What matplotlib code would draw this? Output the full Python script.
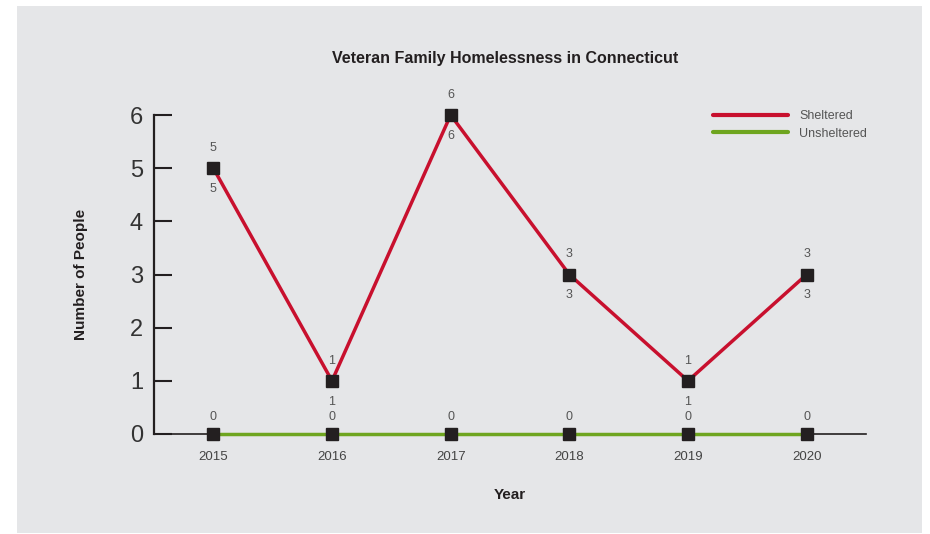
import matplotlib
matplotlib.use('Agg')
import matplotlib.pyplot as plt
import matplotlib.patches as patches

plt.rcParams['font.family'] = ['Liberation Sans', 'DejaVu Sans']

# data
years = [2015, 2016, 2017, 2018, 2019, 2020]
sheltered = [5, 1, 6, 3, 1, 3]
unsheltered = [0, 0, 0, 0, 0, 0]
y_ticks = [0, 1, 2, 3, 4, 5, 6]

red = '#c8102e'
green = '#6ea51f'
dark = '#231f20'
label_gray = '#555555'
panel = '#e5e6e8'

fig = plt.figure(figsize=(9.3, 5.34), dpi=100)
fig.patch.set_facecolor('white')

# gray panel behind everything
bg = patches.Rectangle((17 / 930, 1 / 534), 905 / 930, 527 / 534,
                       transform=fig.transFigure, facecolor=panel,
                       edgecolor='none', zorder=-10)
fig.patches.append(bg)

ax = fig.add_axes([154 / 930, 100 / 534, 712 / 930, 319 / 534])
ax.set_facecolor('none')

ax.plot(years, sheltered, color=red, lw=2.5, marker='s', ms=8.5,
        mfc=dark, mec=dark, label='Sheltered', clip_on=False, zorder=3)
ax.plot(years, unsheltered, color=green, lw=2.5, marker='s', ms=8.5,
        mfc=dark, mec=dark, label='Unsheltered', clip_on=False, zorder=3)

# data labels
for x, v in zip(years, sheltered):
    ax.annotate(str(v), (x, v), xytext=(0, 14.5), textcoords='offset points',
                ha='center', va='center', fontsize=9, color=label_gray)
    ax.annotate(str(v), (x, v), xytext=(0, -15), textcoords='offset points',
                ha='center', va='center', fontsize=9, color=label_gray)
for x, v in zip(years, unsheltered):
    ax.annotate(str(v), (x, v), xytext=(0, 12), textcoords='offset points',
                ha='center', va='center', fontsize=9, color=label_gray)

ax.set_xlim(2014.5, 2020.5)
ax.set_ylim(0, 6)
ax.set_xticks(years)
ax.set_xticklabels([str(y) for y in years], fontsize=9.5, color='#444444')
ax.set_yticks(y_ticks)
ax.set_yticklabels([str(t) for t in y_ticks], fontsize=17, color='#333333')

ax.tick_params(axis='y', direction='in', length=13, width=1.5, color=dark, pad=8)
ax.tick_params(axis='x', length=0, pad=12)

for s in ['top', 'right']:
    ax.spines[s].set_visible(False)
ax.spines['left'].set_color(dark)
ax.spines['left'].set_linewidth(1.6)
ax.spines['bottom'].set_color(dark)
ax.spines['bottom'].set_linewidth(1.2)

ax.set_ylabel('Number of People', fontsize=11, fontweight='bold', color=dark, labelpad=30)
ax.set_xlabel('Year', fontsize=11, fontweight='bold', color=dark, labelpad=18)

fig.text(505 / 930, 1 - 58 / 534, 'Veteran Family Homelessness in Connecticut',
         ha='center', va='center', fontsize=11.5, fontweight='bold', color=dark)

leg = ax.legend(loc='upper left', bbox_to_anchor=(713 / 930, 1 - 110 / 534),
                bbox_transform=fig.transFigure, frameon=False, fontsize=9,
                handlelength=6.0, handletextpad=0.9, labelspacing=0.45,
                borderaxespad=0, borderpad=0)
for line in leg.get_lines():
    line.set_marker('')
    line.set_linewidth(3)
    line.set_solid_capstyle('round')
for t in leg.get_texts():
    t.set_color(label_gray)

fig.savefig('out.png', dpi=100, facecolor=fig.get_facecolor())
